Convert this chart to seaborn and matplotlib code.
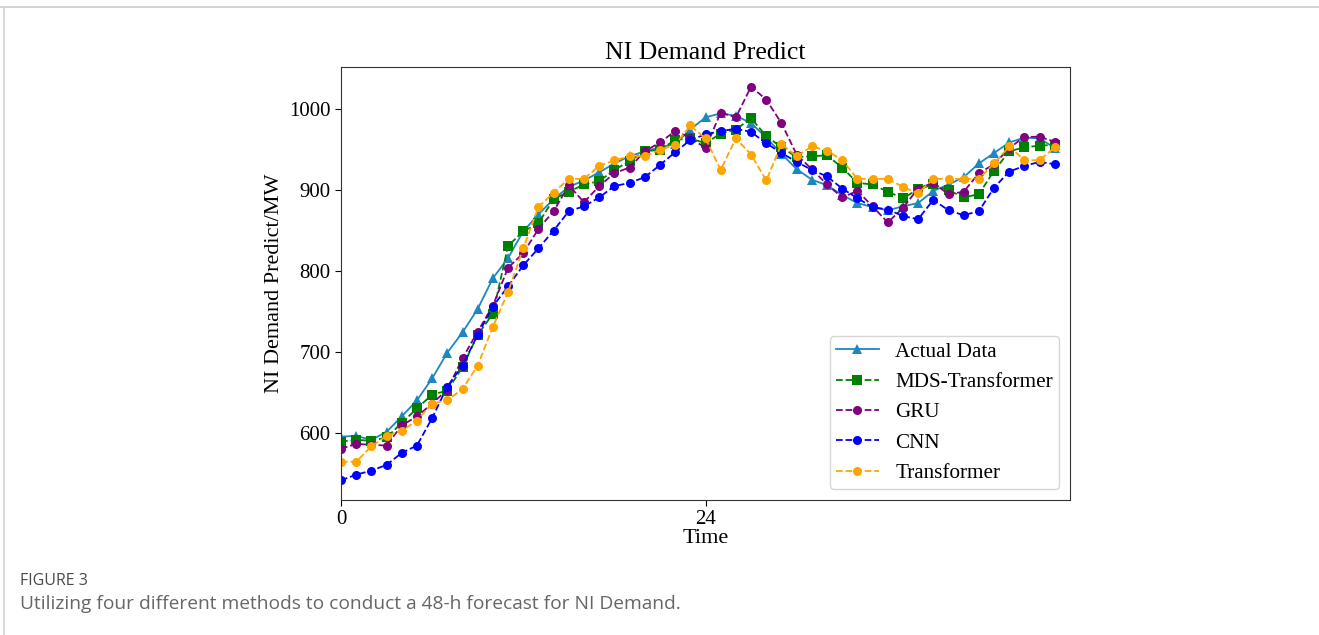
import numpy as np
import pandas as pd
import matplotlib
matplotlib.use("Agg")
import matplotlib.pyplot as plt
from matplotlib.lines import Line2D
import seaborn as sns

# 48 小时的时间轴
hours = list(range(48))

actual = [595, 596, 591, 601, 620, 640, 667, 699, 724, 753, 791, 816, 849, 870, 889, 904,
          912, 922, 933, 942, 948, 953, 957, 975, 990, 995, 992, 983, 965, 945, 926, 913,
          906, 894, 884, 879, 875, 880, 884, 899, 907, 916, 933, 946, 959, 965, 964, 952]
mds_transformer = [589, 591, 590, 594, 612, 630, 647, 652, 681, 721, 747, 831, 849, 859, 889, 898,
                   907, 911, 925, 936, 948, 950, 962, 964, 958, 970, 975, 989, 967, 953, 941, 942,
                   943, 928, 909, 907, 898, 890, 901, 907, 900, 891, 895, 924, 948, 953, 955, 956]
gru = [580, 586, 585, 584, 609, 620, 636, 653, 692, 725, 757, 804, 822, 852, 874, 906,
       885, 905, 921, 928, 948, 959, 973, 965, 952, 996, 990, 1028, 1012, 983, 944, 926,
       907, 891, 899, 880, 860, 878, 902, 909, 895, 898, 921, 932, 952, 966, 966, 960]
cnn = [541, 548, 553, 560, 575, 584, 618, 657, 683, 721, 756, 781, 807, 828, 850, 874,
       880, 891, 905, 909, 916, 931, 947, 962, 969, 973, 976, 972, 958, 946, 935, 925,
       917, 902, 890, 879, 876, 868, 864, 888, 875, 869, 874, 903, 923, 930, 935, 932]
transformer = [564, 564, 583, 596, 602, 615, 636, 640, 654, 683, 731, 774, 828, 879, 897, 914,
               914, 930, 937, 942, 942, 950, 956, 980, 964, 925, 964, 944, 912, 957, 942, 954,
               949, 937, 914, 914, 914, 904, 896, 914, 914, 914, 914, 933, 954, 937, 937, 953]

series = {
    "Actual Data": actual,
    "MDS-Transformer": mds_transformer,
    "GRU": gru,
    "CNN": cnn,
    "Transformer": transformer,
}
styles = {
    "Actual Data": dict(color="#1f87c0", marker="^", linestyle="-"),
    "MDS-Transformer": dict(color="green", marker="s", linestyle="--"),
    "GRU": dict(color="purple", marker="o", linestyle="--"),
    "CNN": dict(color="blue", marker="o", linestyle="--"),
    "Transformer": dict(color="orange", marker="o", linestyle="--"),
}

df = pd.DataFrame({"Time": hours, **series})

serif = ["Liberation Serif", "DejaVu Serif"]
plt.rcParams["font.family"] = serif

fig = plt.figure(figsize=(13.19, 6.35), dpi=100)
ax = fig.add_axes([341 / 1319, 1 - 500 / 635, (1070 - 341) / 1319, (500 - 67) / 635])

for name in series:
    st = styles[name]
    sns.lineplot(data=df, x="Time", y=name, ax=ax, label=name, color=st["color"],
                 marker=st["marker"], linestyle=st["linestyle"], markersize=6.5,
                 markeredgewidth=0, linewidth=1.3)

ax.set_xlim(0, 48)
ax.set_xticks([0, 24])
ax.set_yticks([600, 700, 800, 900, 1000])
ax.tick_params(labelsize=15, length=4)
ax.set_title("NI Demand Predict", fontsize=18.5, pad=6)
ax.set_xlabel("Time", fontsize=16, labelpad=0)
ax.set_ylabel("NI Demand Predict/MW", fontsize=16)
for sp in ax.spines.values():
    sp.set_color("#333333")

ax.legend(loc="lower right", fontsize=15.2, handlelength=2.0, borderaxespad=0.5,
          labelspacing=0.5, borderpad=0.3, handletextpad=0.8)

# 页面边框和图注
fig.add_artist(Line2D([0, 1], [1 - 7 / 635, 1 - 7 / 635], color="#d2d2d2", lw=1.5))
fig.add_artist(Line2D([4 / 1319, 4 / 1319], [0, 1 - 7 / 635], color="#d2d2d2", lw=1.2))
fig.text(20 / 1319, 1 - 581 / 635, "FIGURE 3", fontsize=11.5, color="#4a4a4a",
         family=["Open Sans", "DejaVu Sans"], va="center")
fig.text(20 / 1319, 1 - 604 / 635,
         "Utilizing four different methods to conduct a 48-h forecast for NI Demand.",
         fontsize=13.8, color="#666666", family=["Open Sans", "DejaVu Sans"], va="center")

fig.savefig("out.png", dpi=100)
